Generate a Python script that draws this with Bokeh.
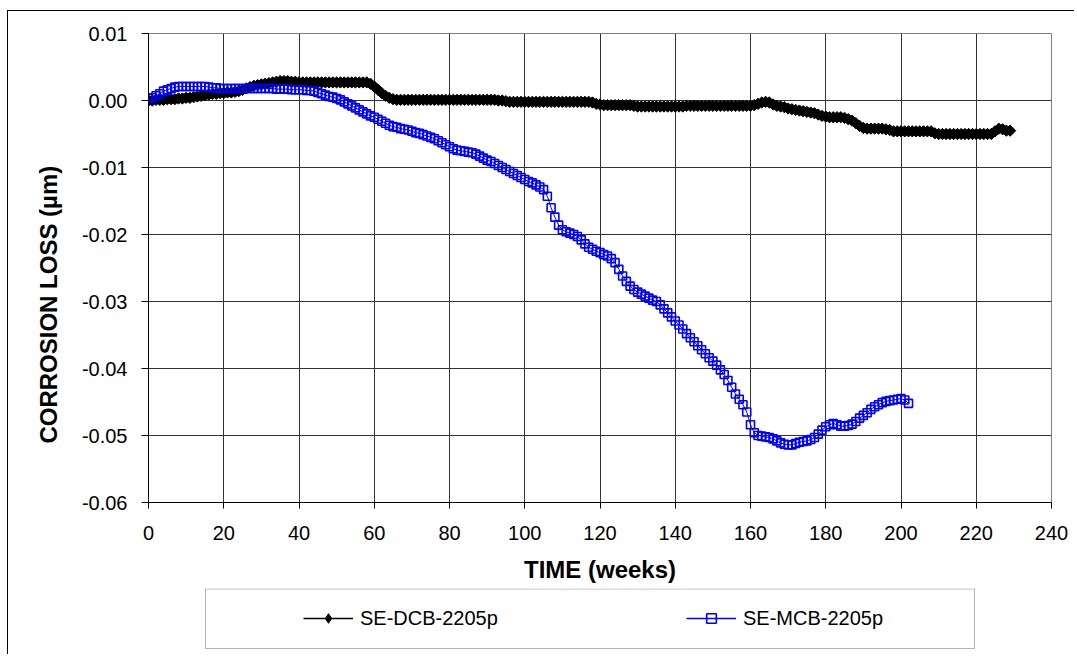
import math
from bokeh.plotting import figure
from bokeh.layouts import column
from bokeh.models import (Range1d, FixedTicker, NumeralTickFormatter, Legend, LegendItem,
                          BoxAnnotation)
from bokeh.embed import file_html
from bokeh.resources import INLINE

# ---------------- data ----------------
series_names = ["SE-DCB-2205p", "SE-MCB-2205p"]
x_ticks = [0, 20, 40, 60, 80, 100, 120, 140, 160, 180, 200, 220, 240]
y_ticks = [-0.06, -0.05, -0.04, -0.03, -0.02, -0.01, 0.0, 0.01]
x_title = "TIME (weeks)"
y_title = "CORROSION LOSS (µm)"

weeks_dcb = list(range(0, 230))
loss_dcb = [
    0.0000, 0.0000, 0.0001, 0.0001, 0.0001, 0.0002, 0.0002, 0.0002, 0.0003, 0.0003,
    0.0004, 0.0004, 0.0005, 0.0006, 0.0007, 0.0008, 0.0009, 0.0010, 0.0010, 0.0011,
    0.0011, 0.0012, 0.0012, 0.0013, 0.0014, 0.0016, 0.0018, 0.0020, 0.0022, 0.0023,
    0.0024, 0.0025, 0.0026, 0.0027, 0.0028, 0.0029, 0.0029, 0.0029, 0.0028, 0.0028,
    0.0027, 0.0027, 0.0027, 0.0027, 0.0027, 0.0027, 0.0027, 0.0027, 0.0027, 0.0027,
    0.0027, 0.0027, 0.0027, 0.0027, 0.0027, 0.0027, 0.0027, 0.0027, 0.0027, 0.0025,
    0.0021, 0.0016, 0.0011, 0.0007, 0.0004, 0.0002, 0.0001, 0.0001, 0.0001, 0.0001,
    0.0001, 0.0001, 0.0001, 0.0001, 0.0001, 0.0001, 0.0001, 0.0001, 0.0001, 0.0001,
    0.0001, 0.0001, 0.0001, 0.0001, 0.0001, 0.0001, 0.0001, 0.0001, 0.0001, 0.0001,
    0.0001, 0.0001, 0.0001, 0.0000, 0.0000, -0.0001, -0.0002, -0.0002, -0.0002, -0.0002,
    -0.0002, -0.0002, -0.0002, -0.0002, -0.0002, -0.0002, -0.0002, -0.0002, -0.0002, -0.0002,
    -0.0002, -0.0002, -0.0002, -0.0002, -0.0002, -0.0002, -0.0002, -0.0002, -0.0003, -0.0005,
    -0.0006, -0.0007, -0.0007, -0.0007, -0.0007, -0.0007, -0.0007, -0.0007, -0.0007, -0.0008,
    -0.0009, -0.0009, -0.0009, -0.0009, -0.0009, -0.0009, -0.0009, -0.0009, -0.0009, -0.0009,
    -0.0009, -0.0009, -0.0009, -0.0008, -0.0008, -0.0008, -0.0008, -0.0008, -0.0008, -0.0008,
    -0.0008, -0.0008, -0.0008, -0.0008, -0.0008, -0.0008, -0.0008, -0.0008, -0.0008, -0.0008,
    -0.0008, -0.0007, -0.0005, -0.0003, -0.0002, -0.0003, -0.0006, -0.0008, -0.0009, -0.0010,
    -0.0012, -0.0013, -0.0014, -0.0015, -0.0016, -0.0017, -0.0018, -0.0019, -0.0021, -0.0023,
    -0.0024, -0.0025, -0.0025, -0.0025, -0.0025, -0.0026, -0.0028, -0.0030, -0.0034, -0.0038,
    -0.0041, -0.0042, -0.0042, -0.0042, -0.0042, -0.0042, -0.0043, -0.0044, -0.0046, -0.0046,
    -0.0046, -0.0046, -0.0046, -0.0046, -0.0046, -0.0046, -0.0046, -0.0046, -0.0046, -0.0049,
    -0.0050, -0.0050, -0.0050, -0.0050, -0.0050, -0.0050, -0.0050, -0.0050, -0.0050, -0.0050,
    -0.0050, -0.0050, -0.0050, -0.0050, -0.0050, -0.0046, -0.0042, -0.0043, -0.0045, -0.0045,
]

weeks_mcb = list(range(0, 203))
loss_mcb = [
    0.0003, 0.0004, 0.0007, 0.0010, 0.0014, 0.0016, 0.0018, 0.0020, 0.0021, 0.0021,
    0.0021, 0.0021, 0.0021, 0.0021, 0.0021, 0.0021, 0.0020, 0.0019, 0.0019, 0.0018,
    0.0018, 0.0018, 0.0018, 0.0018, 0.0018, 0.0018, 0.0018, 0.0018, 0.0018, 0.0018,
    0.0018, 0.0018, 0.0018, 0.0018, 0.0017, 0.0017, 0.0017, 0.0017, 0.0016, 0.0016,
    0.0016, 0.0016, 0.0015, 0.0015, 0.0014, 0.0012, 0.0010, 0.0008, 0.0006, 0.0005,
    0.0003, 0.0001, -0.0002, -0.0005, -0.0008, -0.0011, -0.0014, -0.0017, -0.0020, -0.0023,
    -0.0025, -0.0028, -0.0031, -0.0034, -0.0037, -0.0039, -0.0040, -0.0042, -0.0043, -0.0044,
    -0.0046, -0.0048, -0.0049, -0.0051, -0.0053, -0.0055, -0.0057, -0.0060, -0.0063, -0.0066,
    -0.0069, -0.0072, -0.0074, -0.0075, -0.0076, -0.0077, -0.0078, -0.0080, -0.0083, -0.0086,
    -0.0089, -0.0091, -0.0094, -0.0097, -0.0100, -0.0103, -0.0106, -0.0109, -0.0112, -0.0115,
    -0.0118, -0.0121, -0.0123, -0.0126, -0.0129, -0.0133, -0.0143, -0.0160, -0.0174, -0.0186,
    -0.0193, -0.0196, -0.0198, -0.0200, -0.0203, -0.0208, -0.0214, -0.0219, -0.0222, -0.0225,
    -0.0227, -0.0230, -0.0232, -0.0236, -0.0242, -0.0252, -0.0262, -0.0270, -0.0277, -0.0282,
    -0.0286, -0.0289, -0.0292, -0.0295, -0.0298, -0.0300, -0.0305, -0.0311, -0.0317, -0.0323,
    -0.0329, -0.0335, -0.0341, -0.0348, -0.0354, -0.0360, -0.0366, -0.0372, -0.0378, -0.0384,
    -0.0389, -0.0395, -0.0402, -0.0409, -0.0418, -0.0428, -0.0438, -0.0446, -0.0454, -0.0465,
    -0.0484, -0.0496, -0.0500, -0.0501, -0.0502, -0.0503, -0.0505, -0.0508, -0.0511, -0.0513,
    -0.0514, -0.0514, -0.0512, -0.0510, -0.0509, -0.0508, -0.0506, -0.0503, -0.0498, -0.0492,
    -0.0487, -0.0484, -0.0482, -0.0484, -0.0486, -0.0486, -0.0485, -0.0483, -0.0479, -0.0474,
    -0.0470, -0.0466, -0.0461, -0.0457, -0.0454, -0.0451, -0.0449, -0.0448, -0.0447, -0.0446,
    -0.0445, -0.0447, -0.0452,
]

# ---------------- styles ----------------
FONT = "Liberation Sans"
BLACK = "#000000"
BLUE = "#0000ff"
W = 1066
H_MAIN = 577
H_LEG = 66
BORDER_L, BORDER_R = 140, 23


def style_series(fig, x_range_name="default", dcb_marker="square", dcb_angle=math.pi / 4,
                 line_width=1.0):
    """Draw both series (line + markers) on a figure; returns the four renderers."""
    a = fig.line(weeks_dcb, loss_dcb, line_color=BLACK, line_width=line_width,
                 x_range_name=x_range_name)
    b = fig.scatter(weeks_dcb, loss_dcb, marker=dcb_marker, size=8, angle=dcb_angle,
                    fill_color=BLACK, line_color=BLACK, line_width=1,
                    x_range_name=x_range_name)
    c = fig.line(weeks_mcb, loss_mcb, line_color=BLUE, line_width=line_width,
                 x_range_name=x_range_name)
    d = fig.scatter(weeks_mcb, loss_mcb, marker="square", size=8, fill_alpha=0,
                    line_color=BLUE, line_width=1.6, x_range_name=x_range_name)
    return a, b, c, d


# ---------------- main chart ----------------
p = figure(width=W, height=H_MAIN, output_backend="svg", toolbar_location=None,
           x_range=Range1d(0, 240), y_range=Range1d(-0.06, 0.01),
           min_border_left=BORDER_L, min_border_right=BORDER_R, min_border_top=22,
           min_border_bottom=86)
p.title.visible = False
p.background_fill_color = "white"
p.border_fill_color = "white"
p.outline_line_color = "#808080"
p.outline_line_width = 1

p.xaxis.ticker = FixedTicker(ticks=x_ticks)
p.yaxis.ticker = FixedTicker(ticks=y_ticks)
p.yaxis.formatter = NumeralTickFormatter(format="0.00")
for ax in (p.xaxis[0], p.yaxis[0]):
    ax.major_label_text_font = FONT
    ax.major_label_text_font_size = "20px"
    ax.major_label_text_color = "black"
    ax.axis_line_color = "black"
    ax.axis_line_width = 1
    ax.major_tick_line_color = "black"
    ax.major_tick_in = 0
    ax.minor_tick_line_color = None
    ax.axis_label_text_font = FONT
    ax.axis_label_text_font_size = "24px"
    ax.axis_label_text_font_style = "bold"
    ax.axis_label_text_color = "black"
p.xaxis.major_tick_out = 6
p.yaxis.major_tick_out = 7
p.xaxis.major_label_standoff = 17
p.yaxis.major_label_standoff = 14
p.xaxis.axis_label = x_title
p.xaxis.axis_label_standoff = 13
# trailing no-break spaces move the centred title down to where the reference has it
p.yaxis.axis_label = y_title + "\u00a0" * 11
p.yaxis.axis_label_standoff = 17

p.xgrid.ticker = FixedTicker(ticks=x_ticks)
p.ygrid.ticker = FixedTicker(ticks=y_ticks)
for g in (p.xgrid[0], p.ygrid[0]):
    g.grid_line_color = "#333333"
    g.grid_line_width = 1

style_series(p)

# ---------------- legend strip (pixel coordinates, frame aligned with the chart) ----------------
p2 = figure(width=W, height=H_LEG, output_backend="svg", toolbar_location=None,
            x_range=Range1d(BORDER_L, W - BORDER_R), y_range=Range1d(H_LEG, 0),
            x_axis_location=None, y_axis_location=None,
            min_border_left=BORDER_L, min_border_right=BORDER_R,
            min_border_top=0, min_border_bottom=0)
p2.title.visible = False
p2.xgrid.visible = False
p2.ygrid.visible = False
p2.outline_line_color = None
p2.background_fill_color = "white"
p2.border_fill_color = "white"

legbox = BoxAnnotation(left=197, right=966, top=0.5, bottom=60,
                       fill_alpha=0, line_color="#000000", line_width=1)
p2.add_layout(legbox)

# the same series drawn on a range that keeps them off the strip; used for legend swatches
p2.extra_x_ranges = {"off": Range1d(5000, 6000)}
k1, k1m, k2, k2m = style_series(p2, x_range_name="off", dcb_marker="diamond",
                                dcb_angle=0.0, line_width=1.5)

legend = Legend(items=[LegendItem(label=series_names[0], renderers=[k1, k1m]),
                       LegendItem(label=series_names[1], renderers=[k2, k2m])],
                orientation="horizontal", location=(155, 24),
                padding=0, margin=0, spacing=186, glyph_width=50, glyph_height=24,
                label_standoff=7, label_width=140,
                label_text_font=FONT, label_text_font_size="20px",
                label_text_color="black",
                border_line_color=None, background_fill_alpha=0)
p2.add_layout(legend)

layout = column(p, p2, spacing=0)
layout.styles = {"border-left": "1px solid black", "border-top": "1px solid black",
                 "margin-left": "7px", "margin-top": "10px"}

open("out.html", "w").write(file_html(layout, INLINE))
